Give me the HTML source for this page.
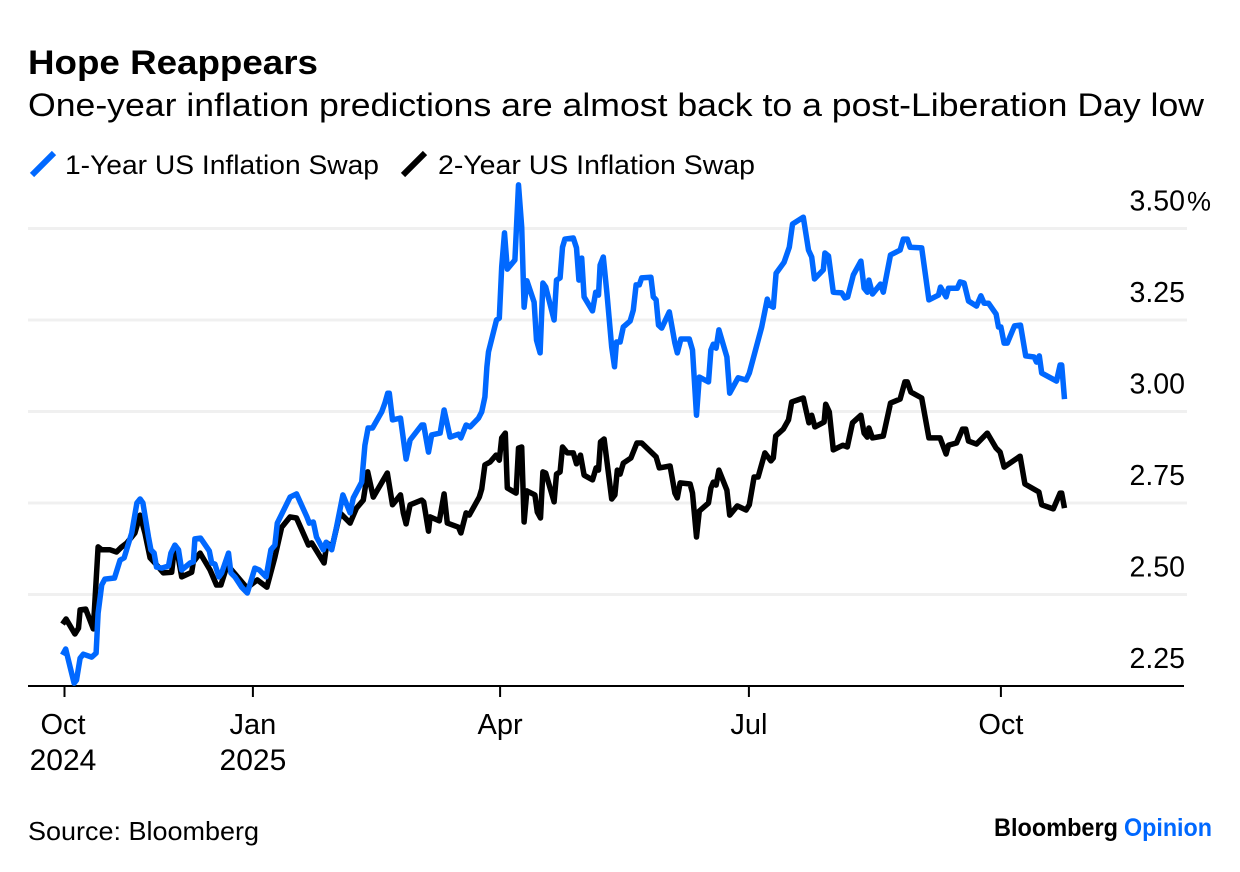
<!DOCTYPE html>
<html lang="en">
<head>
<meta charset="utf-8">
<title>Hope Reappears</title>
<style>
html,body{margin:0;padding:0;background:#fff;}
svg{display:block;}
text{font-family:"Liberation Sans",sans-serif;fill:#000;}
</style>
</head>
<body>
<svg id="chart" xmlns="http://www.w3.org/2000/svg" width="1240" height="872" viewBox="0 0 1240 872">
  <text x="28" y="74" font-size="34" font-weight="700" textLength="290" lengthAdjust="spacingAndGlyphs">Hope Reappears</text>
  <text x="28" y="116" font-size="32" textLength="1176" lengthAdjust="spacingAndGlyphs">One-year inflation predictions are almost back to a post-Liberation Day low</text>
  <g>
    <line x1="32" y1="175" x2="54" y2="153" stroke="#0068ff" stroke-width="6"/>
    <text x="65" y="174" font-size="27" textLength="314" lengthAdjust="spacingAndGlyphs">1-Year US Inflation Swap</text>
    <line x1="403" y1="175" x2="425" y2="153" stroke="#000" stroke-width="6"/>
    <text x="438" y="174" font-size="27" textLength="317" lengthAdjust="spacingAndGlyphs">2-Year US Inflation Swap</text>
  </g>
  <g id="grid"></g>
  <g id="yLabels"></g>
  <line x1="28" y1="686" x2="1184" y2="686" stroke="#000" stroke-width="2"/>
  <g id="xAxis"></g>
  <g id="series"></g>
  <text x="28" y="840" font-size="26" textLength="231" lengthAdjust="spacingAndGlyphs">Source: Bloomberg</text>
  <text x="994" y="836" font-size="25" font-weight="700" textLength="124" lengthAdjust="spacingAndGlyphs">Bloomberg</text>
  <text x="1124" y="836" font-size="25" font-weight="700" textLength="88" lengthAdjust="spacingAndGlyphs" style="fill:#0068ff">Opinion</text>
</svg>
<script>
const yTickValues = [3.5, 3.25, 3.0, 2.75, 2.5, 2.25];
const yTickLabels = ["3.50", "3.25", "3.00", "2.75", "2.50", "2.25"];
const xTickDays = [0, 47.1, 108.9, 171.1, 234.1];
const xTickMonths = ["Oct", "Jan", "Apr", "Jul", "Oct"];
const xTickYears = ["2024", "2025", "", "", ""];

const oneYearDays = [-0.5,0.3,1.4,2.4,3,3.9,4.7,6.8,7.9,8.4,9.3,10.1,12.5,13.9,14.9,16.8,18.1,18.9,19.6,21,21.6,22.4,23,24.3,26,26.6,27.6,28.5,29.3,31.4,32.2,32.6,34,36.2,36.8,37.6,38.6,39.3,41,41.6,42.6,44.3,45.7,47.6,48.7,50.4,51.6,52.6,53.2,56.4,58,60.6,61.2,62.2,63,64.7,65.4,66.8,68,69.6,71.4,72.2,74.3,75.1,75.9,77,79.3,80.1,80.8,81.2,82,84,85.4,86.4,89.3,89.8,91,91.8,93.9,94.9,96.4,98.5,99.1,100.4,101.4,103.5,104.3,105.1,105.6,106,108,108.7,109.3,110,110.7,112.6,113.5,114.3,114.9,115.6,117.4,118,118.9,119.6,120.3,122.4,123,123.9,124.5,125.1,127.2,128,128.6,129.3,129.9,132,132.8,133.5,133.9,134.7,135.6,136.8,137.5,138,138.9,139.7,141.4,142.2,142.9,143.7,144.3,146.6,147.2,147.9,148.5,149.3,151.2,152.6,153.2,154.1,156.2,157,158,158.7,161,161.6,162.2,162.9,163.6,165.6,166.3,168.4,170.4,171.2,174.3,175.7,176.2,177.2,177.9,179.9,181.2,182,184.7,186,186.8,187.5,189.7,190.1,191,192.2,194.3,195.1,195.8,197.2,199.1,199.9,200.7,201.1,202,204,204.7,206.5,208.9,209.7,210.7,211.4,214.3,216.1,218.5,219,220.4,221,223.2,223.9,224.9,226,228,229.1,229.9,231,232.9,233.5,234.1,234.9,235.7,237.5,239,240.3,242.4,243,243.7,244.3,248,248.9,249.3,250];
const oneYearValues = [2.335,2.351,2.302,2.258,2.266,2.326,2.337,2.329,2.34,2.449,2.526,2.542,2.545,2.594,2.6,2.668,2.75,2.761,2.75,2.657,2.622,2.613,2.575,2.572,2.578,2.613,2.635,2.622,2.567,2.586,2.589,2.652,2.654,2.619,2.586,2.583,2.548,2.559,2.613,2.559,2.548,2.52,2.504,2.572,2.567,2.548,2.622,2.635,2.695,2.766,2.775,2.712,2.695,2.698,2.657,2.622,2.643,2.622,2.684,2.772,2.723,2.764,2.807,2.908,2.955,2.955,2.999,3.023,3.05,3.05,2.977,2.982,2.87,2.922,2.963,2.963,2.889,2.936,2.941,3.004,2.93,2.938,2.928,2.963,2.958,2.982,2.999,3.04,3.122,3.163,3.25,3.255,3.395,3.488,3.389,3.414,3.619,3.504,3.285,3.357,3.299,3.195,3.16,3.351,3.34,3.25,3.359,3.365,3.449,3.471,3.474,3.447,3.359,3.419,3.313,3.275,3.326,3.318,3.4,3.422,3.324,3.176,3.122,3.19,3.19,3.231,3.247,3.277,3.346,3.346,3.365,3.367,3.313,3.305,3.236,3.228,3.272,3.187,3.16,3.198,3.198,3.168,2.99,3.094,3.081,3.168,3.184,3.173,3.223,3.149,3.05,3.092,3.086,3.105,3.231,3.307,3.291,3.285,3.378,3.408,3.449,3.512,3.531,3.441,3.422,3.362,3.387,3.433,3.425,3.326,3.324,3.31,3.313,3.373,3.411,3.337,3.326,3.359,3.321,3.348,3.326,3.428,3.441,3.471,3.471,3.449,3.447,3.305,3.318,3.34,3.313,3.337,3.337,3.354,3.351,3.302,3.288,3.316,3.296,3.296,3.266,3.231,3.231,3.187,3.187,3.234,3.236,3.152,3.149,3.135,3.152,3.105,3.083,3.127,3.127,3.034];

const twoYearDays = [-0.5,0.4,2.6,3.5,3.9,5.3,7.2,8.4,9.3,11.4,13,14.3,15.6,17.6,18.9,20.1,21.4,22.6,24.7,26.8,27.4,28.1,29.3,31.8,32.2,33.9,36.4,38,39.1,40.7,41.8,43.9,45.6,48.2,50.6,52.6,54.3,56.4,58,61,61.8,64.9,65.6,66.9,68.9,71.4,73,74.7,75.8,77.2,80.7,82,84,84.7,85.4,86.4,89.3,89.8,91,91.4,93.7,94.9,95.7,98.5,99.1,100.4,101.2,103.7,104.3,105.1,106.4,107.9,108.7,109.3,110.2,110.7,112.9,113.5,114.3,114.9,115.6,117.6,118.2,119,119.6,120.3,122.4,123,123.9,124.5,125.7,127.2,128,129,129.9,132,132.9,133.5,134,134.9,136.8,137.6,138.2,138.9,139.7,141.6,143.1,144.3,147.9,148.7,151.4,152.6,153.2,153.9,156.4,157,158,158.7,161,161.6,162.2,162.9,163.6,165.6,166.3,168.2,170.4,171.2,172.4,173.4,175.1,176.6,177.2,177.8,179.7,181,181.8,184.7,186.1,186.8,187.6,189.9,190.3,191.2,192.2,194.6,195.7,197,199.1,199.9,200.7,201.1,202,204.7,206.5,208.9,210.1,210.7,211.6,214.3,216.1,218.9,220.4,221,223,224.5,225.3,226,228,230.7,232.9,233.9,234.9,238.9,240.1,243.6,244.3,247.2,248.9,249.3,250];
const twoYearValues = [2.419,2.433,2.392,2.408,2.458,2.46,2.406,2.63,2.622,2.622,2.616,2.63,2.641,2.668,2.717,2.668,2.6,2.586,2.559,2.561,2.622,2.622,2.548,2.561,2.589,2.613,2.567,2.526,2.526,2.581,2.567,2.54,2.518,2.54,2.52,2.602,2.684,2.712,2.709,2.635,2.641,2.586,2.641,2.63,2.723,2.695,2.736,2.758,2.835,2.766,2.832,2.745,2.772,2.723,2.693,2.745,2.758,2.753,2.673,2.712,2.701,2.775,2.695,2.684,2.668,2.723,2.717,2.766,2.788,2.854,2.862,2.881,2.867,2.928,2.941,2.791,2.777,2.9,2.903,2.698,2.783,2.772,2.725,2.709,2.835,2.832,2.753,2.829,2.835,2.903,2.887,2.887,2.857,2.881,2.826,2.813,2.846,2.84,2.917,2.925,2.761,2.772,2.84,2.829,2.859,2.873,2.914,2.914,2.876,2.846,2.851,2.777,2.764,2.805,2.802,2.777,2.657,2.728,2.75,2.791,2.807,2.799,2.84,2.785,2.717,2.742,2.731,2.745,2.821,2.821,2.887,2.865,2.873,2.933,2.952,2.977,3.026,3.037,2.969,2.99,2.958,2.971,3.02,2.999,2.895,2.908,2.903,2.969,2.99,2.941,2.93,2.955,2.928,2.933,3.023,3.034,3.081,3.081,3.053,3.037,2.928,2.928,2.884,2.908,2.914,2.952,2.952,2.919,2.911,2.941,2.9,2.889,2.848,2.878,2.802,2.78,2.745,2.734,2.777,2.777,2.736];

const NS = "http://www.w3.org/2000/svg";
function xScale(day) { return 64.5 + day * 4; }
function yScale(value) { return 686 - (value - 2.25) * 366; }
function svgEl(tag, attrs) {
  const el = document.createElementNS(NS, tag);
  for (const key in attrs) el.setAttribute(key, attrs[key]);
  return el;
}

const grid = document.getElementById("grid");
const yLabels = document.getElementById("yLabels");
yTickValues.forEach(function (value, i) {
  const y = yScale(value);
  if (value > 2.25) {
    const gridline = svgEl("line", {x1: 28, x2: 1187, y1: y, y2: y, stroke: "#f0f0f0", "stroke-width": 3});
    
    
    grid.appendChild(gridline);
  }
  const label = svgEl("text", {x: 1185, y: y - 18, "font-size": 28.5, "text-anchor": "end"});
  
  
  label.textContent = yTickLabels[i];
  yLabels.appendChild(label);
  if (i === 0) {
    const percent = svgEl("text", {x: 1187, y: y - 18, "font-size": 27});
    
    
    percent.textContent = "%";
    yLabels.appendChild(percent);
  }
});

const xAxis = document.getElementById("xAxis");
xTickDays.forEach(function (day, i) {
  const x = xScale(day);
  const labelX = i === 0 ? x - 1.5 : x;
  const tick = svgEl("line", {x1: x, x2: x, y1: 686, y2: 697, stroke: "#000", "stroke-width": 2});
  
  
  xAxis.appendChild(tick);
  const month = svgEl("text", {x: labelX, y: 734, "font-size": 29, "text-anchor": "middle"});
  
  
  month.textContent = xTickMonths[i];
  xAxis.appendChild(month);
  if (xTickYears[i]) {
    const year = svgEl("text", {x: labelX, y: 770, "font-size": 30, "text-anchor": "middle"});
    
    
    year.textContent = xTickYears[i];
    xAxis.appendChild(year);
  }
});

function linePoints(days, values) {
  return days.map(function (day, i) {
    return xScale(day).toFixed(1) + "," + yScale(values[i]).toFixed(1);
  }).join(" ");
}
const series = document.getElementById("series");
const twoYearLine = svgEl("polyline", {points: linePoints(twoYearDays, twoYearValues), fill: "none", stroke: "#000", "stroke-width": 5.5, "stroke-linejoin": "round", "stroke-linecap": "butt"});


series.appendChild(twoYearLine);
const oneYearLine = svgEl("polyline", {points: linePoints(oneYearDays, oneYearValues), fill: "none", stroke: "#0068ff", "stroke-width": 5.5, "stroke-linejoin": "round", "stroke-linecap": "butt"});


series.appendChild(oneYearLine);
</script>
</body>
</html>
